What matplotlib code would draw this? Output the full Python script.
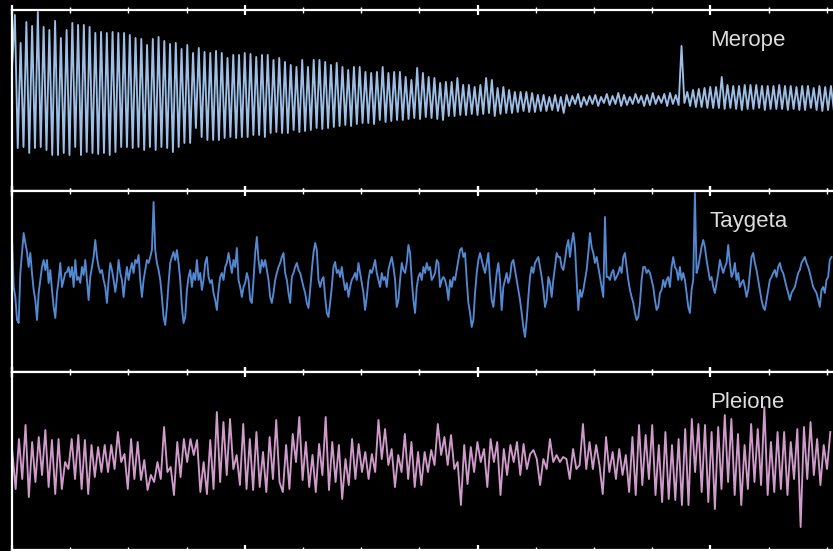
import numpy as np
import matplotlib.pyplot as plt
from matplotlib.ticker import MultipleLocator

# relative flux (arbitrary units)

# Merope: successive maxima and minima of the pulsation
merope_start = [32]
merope_peaks = [85, 57, 78, 74, 88, 73, 70, 79, 62, 70, 77, 75, 75, 73, 67, 68, 67, 68, 67, 67,
                65, 62, 61, 55, 61, 63, 59, 56, 57, 51, 55, 47, 52, 48, 47, 49, 47, 42, 45, 45,
                47, 46, 43, 45, 45, 40, 42,
                38, 35, 33, 40, 33, 40, 40, 38, 35, 37, 33, 30, 33, 33, 28, 27, 28, 33, 27, 28,
                28, 23, 20, 32, 27, 23, 22, 17, 18, 18, 22, 15, 15, 13, 15, 22, 20, 12, 13, 10,
                8, 8, 8, 7, 5, 5, 3, 5,
                3, 5, 4, 6, 3, 4, 5, 3, 6, 4, 7, 5, 3, 6, 4, 5, 7, 4, 6, 7,
                5, 54, 8, 10, 11, 12, 13, 13, 23, 15, 14, 14, 15, 15, 15, 14, 14, 14, 15, 14,
                14, 13, 14, 14, 12, 14, 13, 14]
merope_troughs = [-48, -47, -53, -48, -47, -50, -55, -55, -53, -55, -47, -55, -52, -53, -54, -53,
                  -55, -52, -47, -47, -48, -47, -50, -47, -50, -47, -48, -52, -47, -43, -43, -28,
                  -37, -40, -40, -40, -38, -37, -38, -37, -37, -35, -35, -37, -33, -32, -33,
                  -33, -30, -32, -31, -30, -28, -29, -28, -27, -26, -25, -26, -24, -23, -23, -24,
                  -20, -22, -21, -20, -20, -19, -18, -19, -17, -18, -19, -20, -16, -16, -15, -15,
                  -14, -15, -14, -13, -16, -14, -13, -13, -12, -11, -12, -12, -11, -11, -10, -11,
                  -13, -6, -4, -7, -5, -4, -6, -3, -5, -4, -6, -5, -4, -3, -6, -5,
                  -4, -3, -6, -4, -5, -3, -6, -7, -7, -8, -8, -8, -9, -8, -9, -10,
                  -9, -9, -8, -10, -9, -9, -9, -10, -9, -10, -10, -8, -10, -11, -10, -10]

taygeta_flux = [42, -7, -17, -40, -43, 7, 27, 47, 37, 28, 13, 27, 7, -10, -20, -40, -13, 0, 13, 20,
                10, 20, -3, 10, -10, -27, -38, -13, 0, 17, -7, 0, 7, 8, 13, 3, 13, -7, 20, 0,
                3, -3, 13, 5, 20, 0, -20, 3, 13, 23, 40, 23, 13, 7, 10, 0, -7, -23, 0, 17,
                10, 0, -12, 0, 20, 7, 0, -17, 0, 13, 0, 10, 17, 7, 20, 17, 25, 0, -17, 0,
                10, 20, 17, 23, 30, 78, 30, 17, 10, 0, -17, -37, -45, -27, -3, 17, 23, 28, 20, 30,
                17, 0, -27, -43, -37, -10, 3, 10, -7, 7, 0, 20, 0, 7, -10, 0, 17, 23, 3, -3,
                0, -13, -20, -30, -10, 3, 7, 0, 13, 17, 27, 17, 7, 20, 13, 32, 0, -7, -17, -7,
                -3, 7, 0, -20, -23, 0, 27, 43, 20, 7, 20, 13, 20, 10, 0, -17, -23, -13, 0, 7,
                13,
                17, 23, 27, 7, 0, -13, -23, 3, 7, 13, 17, 10, 7, 0, -7, -13, -23, -28, -10, 10,
                27, 37, 30, 0, -7, 0, 3, -17, -33, -37, -23, -7, 13, 18, 7, 10, 3, 13, 0, -10,
                -3, -17, -7, 0, 3, 7, 0, 17, 7, -3, -13, -30, -17, 0, 10, 7, 13, 20, 7, 0,
                -7, 7, 0, 3, -7, 10, 17, 23, 13, 0, -27, -20, 0, 17, 10, 7, 17, 35, 27, 0,
                -20, -33, -7, 3, 7, 0, 13, 7, 17, 10, 13, 0, 3, 7, 20, 17, -7, 0, 3, 0,
                -7, -20, 0, -7, 3, 0, 10, 20, 30, 32, 23, 27, 0, -23, -33, -47, -40, -13, 7, 20,
                27, 20, 13, 7, 17, 27, 0, -20, -27, -10, 7, 17, 0, -30, -7, 0, 7, -3, 3, 17,
                20, 10, 0, -10, -20, -33, -47, -57, -40, -17, 3, 13, 7, 17, 20, 23, 13, 3, -10, -27,
                -20, 3, -3, -17, 0, 13, 27, 23,
                23, 13, 10, 20, 33, 40, 23, 37, 47, 33, 0, -30, -10, -17, -10, 0, 10, 27, 47, 33,
                27, 17, 23, 13, 3, -7, -17, 63, 3, 3, 0, 7, 10, 0, 3, 7, 13, 7, 23, 27,
                13, 0, -10, -17, -23, -33, -40, -37, -23, 0, 13, 13, 7, 10, 7, 0, -7, -20, -30, -27,
                -13, -10, 0, -7, 0, 3, -7, 13, 23, 13, 10, 0, 13, 0, 7, 0, -13, -27, -33, -10,
                0, 87, 7, 13, 23, 33, 40, 33, 20, 10, 0, 3, -7, -13, -3, 7, 20, 13, 7, 13,
                17, 35, 17, 3, 7, 17, 0, 7, -7, -3, 0, -7, -17, -10, 7, 23, 27, 17, 10, 0,
                -10, -20, -27, -30, -20, -10, 0, 3, 7, 10, 3, 13, 17, 10, 7, 0, -7, -13, -20, -13,
                -10, -7, 0, 7, 10, 17, 20, 23, 17, 13, 7, 0, -7, -10, -13, -20, -27, -10, -7, -13,
                0, 3, 20, 23]

pleione_flux = [10, -27, 23, -17, 37, -35, 20, -20, 25, -13, 32, -25, 22, -32, 23, -27, 0, -7, 23, -17,
                27, -27, 22, -32, 17, -15, 15, -10, 17, -10, 17, -7, 30, 0, 8, -27, 23, -17, 20, -18,
                2, -28, -13, -20, 0, -17, 35, -10, -5, -33, 20, -15, 23, 0, 23, 7, 22, -30, 0, -32,
                22, -27, 50, -20, 40, -13, 43, -7, 7, -23, 38, -27, 23, -28, 30, -25, 10, -30, 25, -17,
                42, -20,
                -30, 17, -27, 28, 0, 45, -18, 20, -25, 7, -30, 18, -13, 45, -28, 20, -20, 17, -37, 3,
                -23, 23, -17, 18, -10, 10, -17, 8, -10, 42, 3, 33, -3, 13, -25, 7, -10, 28, -17, 20,
                -25, 10, -23, 10, -10, 12, -3, 38, 7, 25, -3, 27, -7, 0, -43, 17, -22, 15, -10, 20,
                0, 13, -25, 23, 0, 20, -33, 13, -13, 17, 0, 20, -13, 18, -7, 8, 12, 3, -23, 3,
                -7, 23, 0,
                7, 0, 5, 3, -17, 13, -7, -3, 38, -7, 20, -7, 17, -3, -32, 25, -10, 10, -17, 13,
                -13, 7, -30, 25, -33, 37, -23, 27, -17, 37, -33, 17, -40, 30, -37, 17, -38, 23, -43, 33,
                -43, 43, -10, 38, -30, 37, -40, 30, -47, 35, -27, 47, -20, 43, -33, 28, -43, 17, -27, 38,
                -20, 33, -23, 55, -33, 20, -30, 30, -27, 30, -33, 20, -17, 33, -65, 35, -17, 40, -13, 23,
                -23, 17, -7, 30]

stars = ["Merope", "Taygeta", "Pleione"]
colors = ["#9dbfe6", "#5389d2", "#d09acb"]

merope_flux = list(merope_start)
for p, t in zip(merope_peaks, merope_troughs):
    merope_flux += [p, t]

# time in days
series = [
    (np.linspace(0, 70.6, len(merope_flux)), merope_flux, (-91, 90)),
    (np.linspace(0, 70.4, len(taygeta_flux)), taygeta_flux, (-92, 89)),
    (np.linspace(0.03, 70.3, len(pleione_flux)), pleione_flux, (-88, 90)),
]

fig = plt.figure(figsize=(8.33, 5.51), dpi=100, facecolor="black")
boxes = [(0.6534, 0.3285), (0.3249, 0.3285), (0.0018, 0.3230)]
left = 12 / 833

for (t, f, ylim), name, c, (b, h) in zip(series, stars, colors, boxes):
    ax = fig.add_axes([left, b, 1 - left, h])
    ax.set_facecolor("black")
    ax.plot(t, f, color=c, lw=1.35, solid_joinstyle="round")
    ax.set_xlim(0, 70.53)
    ax.set_ylim(*ylim)

    for s in ["top", "bottom", "left"]:
        ax.spines[s].set_color("white")
        ax.spines[s].set_linewidth(1.6)
    ax.spines["right"].set_visible(False)

    ax.xaxis.set_major_locator(MultipleLocator(20))
    ax.xaxis.set_minor_locator(MultipleLocator(5))
    ax.tick_params(axis="x", which="both", direction="inout", top=True, bottom=True,
                   labelbottom=False, color="white")
    ax.tick_params(axis="x", which="major", length=7, width=1.6)
    ax.tick_params(axis="x", which="minor", length=4, width=1.0)
    ax.set_yticks([])

    ax.text(0.85, 0.80, name, transform=ax.transAxes, color="#dddddd",
            fontsize=16, family="Liberation Sans", va="baseline", ha="left")

fig.savefig("out.png", dpi=100, facecolor="black")
